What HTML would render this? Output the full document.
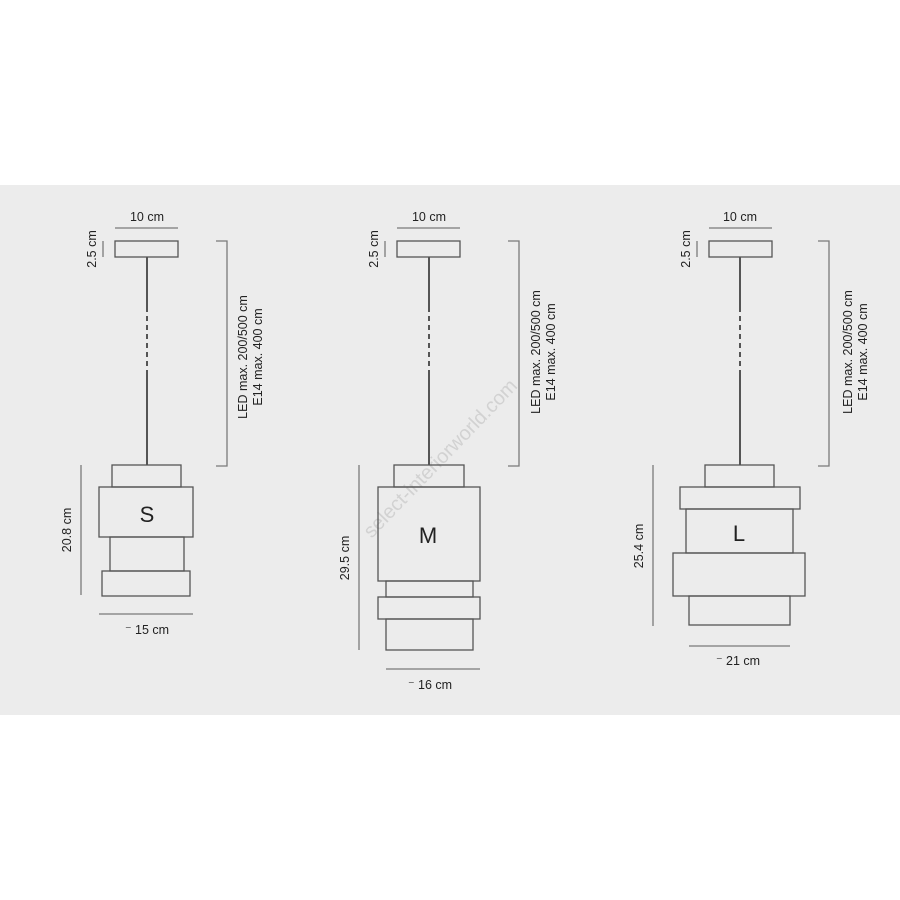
<!DOCTYPE html>
<html><head><meta charset="utf-8"><style>
html,body{margin:0;padding:0;background:#fff;}
svg{display:block;}
text{font-family:"Liberation Sans",sans-serif;fill:#222;}
</style></head><body>
<svg width="900" height="900" viewBox="0 0 900 900" xmlns="http://www.w3.org/2000/svg">
<rect x="0" y="0" width="900" height="900" fill="#fff"/>
<rect x="0" y="185" width="900" height="530" fill="#ececec"/>
<text x="440" y="465" font-size="20" text-anchor="middle" style="fill:#d2d2d2" transform="rotate(-46 440 458)">select-interiorworld.com</text>

<g fill="none" stroke="#555" stroke-width="1.3">
<rect x="115" y="241" width="63" height="16"/>
<line x1="147" y1="257" x2="147" y2="307" stroke-width="2"/>
<line x1="147" y1="307" x2="147" y2="372" stroke-width="2" stroke-dasharray="5,4"/>
<line x1="147" y1="372" x2="147" y2="465" stroke-width="2"/>
<rect x="112" y="465" width="69" height="22"/>
<rect x="99" y="487" width="94" height="50"/>
<rect x="110" y="537" width="74" height="34"/>
<rect x="102" y="571" width="88" height="25"/>
<rect x="397" y="241" width="63" height="16"/>
<line x1="429" y1="257" x2="429" y2="307" stroke-width="2"/>
<line x1="429" y1="307" x2="429" y2="372" stroke-width="2" stroke-dasharray="5,4"/>
<line x1="429" y1="372" x2="429" y2="465" stroke-width="2"/>
<rect x="394" y="465" width="70" height="22"/>
<rect x="378" y="487" width="102" height="94"/>
<rect x="386" y="581" width="87" height="16"/>
<rect x="378" y="597" width="102" height="22"/>
<rect x="386" y="619" width="87" height="31"/>
<rect x="709" y="241" width="63" height="16"/>
<line x1="740" y1="257" x2="740" y2="307" stroke-width="2"/>
<line x1="740" y1="307" x2="740" y2="372" stroke-width="2" stroke-dasharray="5,4"/>
<line x1="740" y1="372" x2="740" y2="465" stroke-width="2"/>
<rect x="705" y="465" width="69" height="22"/>
<rect x="680" y="487" width="120" height="22"/>
<rect x="686" y="509" width="107" height="44"/>
<rect x="673" y="553" width="132" height="43"/>
<rect x="689" y="596" width="101" height="29"/>
</g>

<g fill="none" stroke="#7a7a7a" stroke-width="1.3">
<line x1="115" y1="228" x2="178" y2="228"/>
<line x1="103" y1="241" x2="103" y2="257"/>
<polyline points="216,241 227,241 227,466 216,466"/>
<line x1="81" y1="465" x2="81" y2="595"/>
<line x1="99" y1="614" x2="193" y2="614"/>
<line x1="397" y1="228" x2="460" y2="228"/>
<line x1="385" y1="241" x2="385" y2="257"/>
<polyline points="508,241 519,241 519,466 508,466"/>
<line x1="359" y1="465" x2="359" y2="650"/>
<line x1="386" y1="669" x2="480" y2="669"/>
<line x1="709" y1="228" x2="772" y2="228"/>
<line x1="697" y1="241" x2="697" y2="257"/>
<polyline points="818,241 829,241 829,466 818,466"/>
<line x1="653" y1="465" x2="653" y2="626"/>
<line x1="689" y1="646" x2="790" y2="646"/>
</g>

<g font-size="12.5" text-anchor="middle">
<text x="147" y="221">10 cm</text>
<text x="429" y="221">10 cm</text>
<text x="740" y="221">10 cm</text>
<text transform="translate(96 249) rotate(-90)">2.5 cm</text>
<text transform="translate(378 249) rotate(-90)">2.5 cm</text>
<text transform="translate(690 249) rotate(-90)">2.5 cm</text>
<text transform="translate(247 357) rotate(-90)">LED max. 200/500 cm</text>
<text transform="translate(262 357) rotate(-90)">E14 max. 400 cm</text>
<text transform="translate(540 352) rotate(-90)">LED max. 200/500 cm</text>
<text transform="translate(555 352) rotate(-90)">E14 max. 400 cm</text>
<text transform="translate(852 352) rotate(-90)">LED max. 200/500 cm</text>
<text transform="translate(867 352) rotate(-90)">E14 max. 400 cm</text>
<text transform="translate(71 530) rotate(-90)">20.8 cm</text>
<text transform="translate(349 558) rotate(-90)">29.5 cm</text>
<text transform="translate(643 546) rotate(-90)">25.4 cm</text>
<text x="147" y="634">⁻ 15 cm</text>
<text x="430" y="689">⁻ 16 cm</text>
<text x="738" y="665">⁻ 21 cm</text>
</g>
<g font-size="22" text-anchor="middle" style="fill:#111">
<text x="147" y="522">S</text>
<text x="428" y="543">M</text>
<text x="739" y="541">L</text>
</g>
</svg>
</body></html>
